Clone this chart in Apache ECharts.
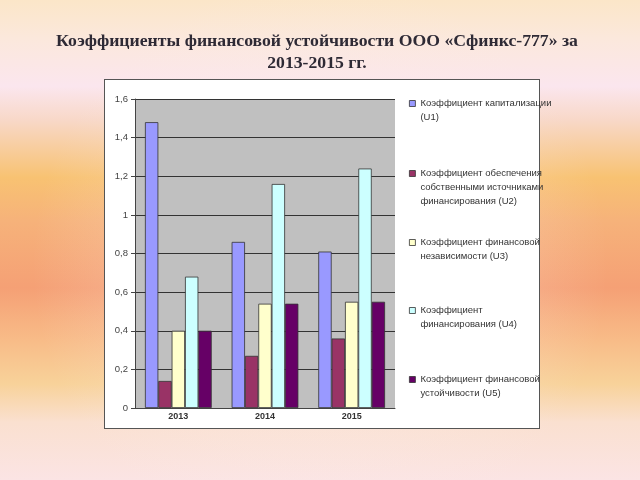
<!DOCTYPE html>
<html>
<head>
<meta charset="utf-8">
<script src="https://cdn.jsdelivr.net/npm/echarts@6/dist/echarts.min.js"></script>
<style>
html,body{margin:0;padding:0;width:640px;height:480px;overflow:hidden;}
body{
  background:
    radial-gradient(ellipse 45% 60% at 50% 55%, rgba(252,236,232,0.55) 0%, rgba(252,236,232,0) 100%),
    linear-gradient(to bottom, #fbe6c8 0%, #fbe8dc 8%, #fbe6ee 18%, #f8d8c8 25%, #f8c272 37%, #f6b27a 46%, #f5a075 60%, #f8bc88 71%, #f8d29a 80%, #fae0d0 88%, #fbe4e4 100%);
}
#box{position:absolute;left:104px;top:79px;width:434px;height:348px;background:#fff;border:1px solid #555;}
#chart{position:absolute;left:0;top:0;width:640px;height:480px;}
</style>
</head>
<body>
<div id="box"></div>
<div id="chart"></div>
<script>
const categories = ['2013', '2014', '2015'];
const seriesNames = [
  'Коэффициент капитализации (U1)',
  'Коэффициент обеспечения собственными источниками финансирования (U2)',
  'Коэффициент финансовой независимости (U3)',
  'Коэффициент финансирования (U4)',
  'Коэффициент финансовой устойчивости (U5)'
];
const legendLines = [
  ['Коэффициент капитализации', '(U1)'],
  ['Коэффициент обеспечения', 'собственными источниками', 'финансирования (U2)'],
  ['Коэффициент финансовой', 'независимости (U3)'],
  ['Коэффициент', 'финансирования (U4)'],
  ['Коэффициент финансовой', 'устойчивости (U5)']
];
const u1 = [1.48, 0.86, 0.81];
const u2 = [0.14, 0.27, 0.36];
const u3 = [0.40, 0.54, 0.55];
const u4 = [0.68, 1.16, 1.24];
const u5 = [0.40, 0.54, 0.55];
const values = [u1, u2, u3, u4, u5];
const colors = ['#9999FF', '#993366', '#FFFFCC', '#CCFFFF', '#660066'];
const legendFirstLine = [103, 173, 242, 310, 379];

const chart = echarts.init(document.getElementById('chart'), null, {renderer: 'canvas'});
const LH = 14;
const legends = seriesNames.map((name, i) => {
  const n = legendLines[i].length;
  return {
    data: [name],
    orient: 'vertical',
    left: 409,
    top: legendFirstLine[i] - n * LH / 2,
    itemWidth: 6,
    itemHeight: 6,
    icon: 'rect',
    padding: 0,
    selectedMode: false,
    formatter: () => '{s| }\n' + legendLines[i].map(l => '{t|' + l + '}').join('\n'),
    textStyle: {
      color: '#333',
      rich: {
        s: {fontSize: 1, lineHeight: (n - 1) * LH},
        t: {fontFamily: 'Liberation Sans, Arial, sans-serif', fontSize: 9.5, color: '#333', lineHeight: LH}
      }
    },
    itemStyle: {borderColor: '#333', borderWidth: 0.8}
  };
});

chart.setOption({
  animation: false,
  title: {
    text: 'Коэффициенты финансовой устойчивости ООО «Сфинкс-777» за\n2013-2015 гг.',
    left: 312,
    textAlign: 'center',
    top: 25,
    textStyle: {
      fontFamily: 'Liberation Serif, Times New Roman, serif',
      fontWeight: 'bold',
      fontSize: 17.7,
      lineHeight: 22,
      color: '#2e2a35'
    }
  },
  legend: legends,
  grid: {left: 135, right: 245, top: 99, bottom: 72, containLabel: false, show: true, backgroundColor: '#C0C0C0', borderWidth: 0},
  xAxis: {
    type: 'category',
    data: categories,
    axisLine: {lineStyle: {color: '#444', width: 1}},
    axisTick: {show: false},
    axisLabel: {fontFamily: 'Liberation Sans, Arial, sans-serif', fontSize: 9, fontWeight: 'bold', color: '#333', margin: 4}
  },
  yAxis: {
    type: 'value',
    min: 0, max: 1.6, interval: 0.2,
    axisLine: {show: true, lineStyle: {color: '#444', width: 1}},
    axisTick: {show: true, length: 4, lineStyle: {color: '#444'}},
    splitLine: {lineStyle: {color: '#333', width: 1}},
    axisLabel: {
      fontFamily: 'Liberation Sans, Arial, sans-serif', fontSize: 9.5, color: '#444', margin: 7,
      formatter: v => String(Math.round(v * 10) / 10).replace('.', ',')
    }
  },
  series: seriesNames.map((name, i) => ({
    name: name,
    type: 'bar',
    data: values[i],
    barGap: '0%',
    barCategoryGap: '23%',
    itemStyle: {color: colors[i], borderColor: '#333', borderWidth: 0.8}
  }))
});
</script>
</body>
</html>
